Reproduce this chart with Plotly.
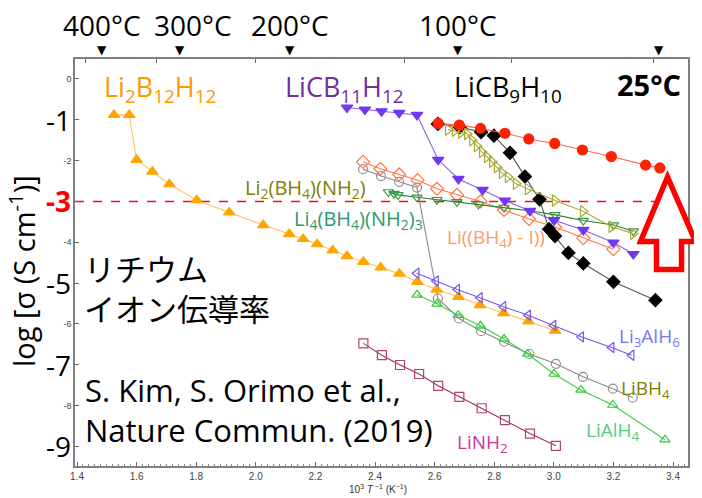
import plotly.graph_objects as go

# ---------------- data ----------------
li2b12h12_x = [1.524, 1.575, 1.600, 1.653, 1.710, 1.802, 1.911, 2.025, 2.112, 2.159, 2.206, 2.258,
               2.306, 2.361, 2.419, 2.482, 2.542, 2.607, 2.680, 2.752, 2.831, 2.915, 3.004]
li2b12h12_y = [-0.88, -0.88, -1.98, -2.27, -2.58, -2.97, -3.27, -3.58, -3.80, -3.92, -4.05, -4.20,
               -4.34, -4.48, -4.62, -4.77, -4.97, -5.16, -5.34, -5.54, -5.74, -5.94, -6.17]

licb11h12_x = [2.306, 2.366, 2.422, 2.481, 2.541, 2.612, 2.680, 2.761, 2.836, 2.920, 3.001, 3.099, 3.200, 3.267]
licb11h12_y = [-0.70, -0.75, -0.79, -0.83, -0.88, -1.98, -2.45, -2.72, -2.98, -3.23, -3.46, -3.70, -4.01, -4.29]

licb9h10_x = [2.611, 2.685, 2.756, 2.799, 2.853, 2.903, 2.952, 2.984, 3.004, 3.049, 3.099, 3.200, 3.341]
licb9h10_y = [-1.10, -1.18, -1.30, -1.39, -1.81, -2.39, -2.95, -3.68, -3.85, -4.26, -4.52, -4.97, -5.42]

mix_x = [2.612, 2.683, 2.754, 2.836, 2.916, 3.003, 3.096, 3.193, 3.308, 3.356]
mix_y = [-1.09, -1.13, -1.21, -1.33, -1.47, -1.58, -1.74, -1.90, -2.11, -2.18]

li2bh4nh2_x = [2.645, 2.668, 2.689, 2.709, 2.726, 2.742, 2.759, 2.776, 2.793, 2.809, 2.826, 2.846,
               2.873, 2.913, 3.004, 3.098, 3.194, 3.266]
li2bh4nh2_y = [-1.24, -1.27, -1.31, -1.35, -1.50, -1.64, -1.79, -1.91, -2.03, -2.16, -2.30, -2.40,
               -2.57, -2.70, -2.98, -3.24, -3.62, -3.79]

li4bh4nh23_x = [2.445, 2.464, 2.477, 2.541, 2.608, 2.675, 2.747, 2.833, 2.920, 3.004, 3.099, 3.200, 3.267]
li4bh4nh23_y = [-2.77, -2.81, -2.84, -2.90, -2.96, -3.01, -3.07, -3.15, -3.23, -3.33, -3.47, -3.58, -3.73]

libh4i_x = [2.360, 2.418, 2.481, 2.543, 2.608, 2.675, 2.754, 2.833, 2.917, 3.004, 3.099, 3.200]
libh4i_y = [-2.03, -2.20, -2.34, -2.48, -2.69, -2.84, -3.00, -3.21, -3.43, -3.63, -3.90, -4.17]

libh4_x = [2.360, 2.420, 2.481, 2.541, 2.611, 2.682, 2.756, 2.833, 2.918, 3.007, 3.098, 3.198, 3.265]
libh4_y = [-2.21, -2.38, -2.52, -2.66, -5.38, -5.87, -6.18, -6.44, -6.74, -6.98, -7.30, -7.59, -7.81]

lialh4_x = [2.541, 2.608, 2.679, 2.754, 2.833, 2.912, 3.001, 3.091, 3.198, 3.373]
lialh4_y = [-5.29, -5.51, -5.79, -6.05, -6.37, -6.74, -7.23, -7.62, -7.99, -8.84]

li3alh6_x = [2.540, 2.605, 2.676, 2.752, 2.831, 2.914, 2.999, 3.092, 3.194, 3.261]
li3alh6_y = [-4.76, -4.95, -5.16, -5.36, -5.58, -5.79, -6.04, -6.32, -6.58, -6.77]

linh2_x = [2.361, 2.423, 2.484, 2.548, 2.612, 2.683, 2.758, 2.836, 2.920, 3.007]
linh2_y = [-6.48, -6.77, -7.01, -7.23, -7.52, -7.79, -8.07, -8.36, -8.69, -8.99]

temps_c = [400, 300, 200, 100, 25]
temp_labels = ["400°C", "300°C", "200°C", "100°C", "<b>25°C</b>"]
top_ticks_K = [700, 600, 500, 400, 350, 300]

y_small_ticks = [0, -2, -4, -6, -8]
y_big_ticks = [-1, -3, -5, -7, -9]

# ---------------- layout helpers ----------------
OFF = 8  # page body margin offset
PW, PH = 702, 498
L, R, T, B = 75, 688, 59, 466  # plot area in page pixels
W, H = PW - OFF, PH - OFF
XR = [1.3933, 3.4503]
YR = [-9.485, 0.49]


def px(x):
    return (x - L) / (R - L)


def py(y):
    return (B - y) / (B - T)


FONT = "Open Sans, Noto Sans CJK JP, sans-serif"

fig = go.Figure()


def add(x, y, sym, mcol, lcol, size=9, lw=1.1):
    fig.add_trace(go.Scatter(
        x=x, y=y, mode="lines+markers",
        line=dict(color=lcol, width=lw),
        marker=dict(symbol=sym, size=size, color=mcol,
                    line=dict(color=mcol, width=1.2)),
        showlegend=False, hoverinfo="skip"))


add(linh2_x, linh2_y, "square-open", "#B0456E", "#A03055")
add(libh4_x, libh4_y, "circle-open", "#909090", "#8a8a8a")
add(lialh4_x, lialh4_y, "triangle-up-open", "#33CC33", "#44CC44")
add(li2b12h12_x, li2b12h12_y, "triangle-up", "#FFA500", "#FFC266", size=10)
add(li3alh6_x, li3alh6_y, "triangle-left-open", "#7755EE", "#7755EE")
add(libh4i_x, libh4i_y, "diamond-open", "#FF7744", "#FF7744", size=10)
add(li4bh4nh23_x, li4bh4nh23_y, "triangle-down-open", "#339944", "#2E7D32")
add(licb11h12_x, licb11h12_y, "triangle-down", "#7038F0", "#8860EE", size=10)
add(licb9h10_x, licb9h10_y, "diamond", "#000000", "#555555", size=10)
add(li2bh4nh2_x, li2bh4nh2_y, "triangle-right-open", "#AAAA33", "#AAAA44", size=10)
add(mix_x, mix_y, "circle", "#FF2200", "#FF6655", size=10)

# invisible trace for top axis
fig.add_trace(go.Scatter(x=[XR[0]], y=[YR[0]], xaxis="x2", mode="markers",
                         marker=dict(opacity=0), showlegend=False, hoverinfo="skip"))

annotations = []
for t, lab_t in zip(temps_c, temp_labels):
    xv = 1000.0 / (t + 273.15)
    annotations.append(dict(x=xv, y=py(50), xref="x", yref="paper", text="▼", showarrow=False,
                            font=dict(size=12, color="black", family="DejaVu Sans"),
                            xanchor="center", yanchor="middle"))
    if t == 25:
        annotations.append(dict(x=xv, y=py(84), xref="x", yref="paper", text=lab_t, showarrow=False,
                                font=dict(size=29, color="black", family=FONT),
                                xanchor="center", yanchor="middle", xshift=-10))
    else:
        annotations.append(dict(x=xv, y=py(25), xref="x", yref="paper", text=lab_t, showarrow=False,
                                font=dict(size=28, color="black", family=FONT),
                                xanchor="center", yanchor="middle", xshift=13 if t == 300 else 0))


def lab(text, x, y, size, color, anchor="left", family=FONT):
    annotations.append(dict(x=px(x), y=py(y), xref="paper", yref="paper", text=text,
                            showarrow=False, font=dict(size=size, color=color, family=family),
                            xanchor=anchor, yanchor="middle", align="left"))


lab("Li<sub>2</sub>B<sub>12</sub>H<sub>12</sub>", 102, 88, 27, "#FF9900")
lab("LiCB<sub>11</sub>H<sub>12</sub>", 283, 88, 27, "#7030A0")
lab("LiCB<sub>9</sub>H<sub>10</sub>", 452, 88, 27, "#000000")
lab("Li<sub>2</sub>(BH<sub>4</sub>)(NH<sub>2</sub>)", 243, 188, 20, "#808000")
lab("Li<sub>4</sub>(BH<sub>4</sub>)(NH<sub>2</sub>)<sub>3</sub>", 292, 219, 20, "#2E9970")
lab("Li((BH<sub>4</sub>) - I))", 445, 238, 19, "#FF9966")
lab("リチウム<br>イオン伝導率", 82, 287, 31, "#000000", family="Noto Sans CJK JP")
lab("S. Kim, S. Orimo et al.,<br>Nature Commun. (2019)", 83, 410, 31, "#000000")
lab("Li<sub>3</sub>AlH<sub>6</sub>", 617, 337, 19, "#7777EE")
lab("LiBH<sub>4</sub>", 619, 389, 19, "#808000")
lab("LiAlH<sub>4</sub>", 584, 431, 19, "#55CC88")
lab("LiNH<sub>2</sub>", 455, 443, 19, "#CC3399")

for v in y_big_ticks:
    annotations.append(dict(x=px(73), y=v, xref="paper", yref="y",
                            text=("<b>%d</b>" % v) if v == -3 else str(v), showarrow=False,
                            font=dict(size=28, color="#FF0000" if v == -3 else "black", family=FONT),
                            xanchor="right", yanchor="middle"))

annotations.append(dict(x=px(22), y=py(271), xref="paper", yref="paper",
                        text="log [σ (S cm<sup>-1</sup>)]", textangle=-90, showarrow=False,
                        font=dict(size=29, color="black", family=FONT),
                        xanchor="center", yanchor="middle"))
annotations.append(dict(x=px(378), y=py(489), xref="paper", yref="paper",
                        text="10<sup>3</sup> <i>T</i><sup> −1</sup> (K<sup>−1</sup>)", showarrow=False,
                        font=dict(size=10, color="#333333", family="Liberation Sans"),
                        xanchor="center", yanchor="middle"))

shapes = [dict(type="line", xref="x", yref="y", x0=XR[0], x1=3.40, y0=-3, y1=-3,
               line=dict(color="#EE1111", width=1.5, dash="dash"), layer="below")]
arrow_pts = [(667.5, 177), (640.5, 241.5), (656.5, 241.5), (656.5, 269.5),
             (681.5, 269.5), (681.5, 241.5), (695.5, 241.5)]
path = "M " + " L ".join("%.4f,%.4f" % (px(a), py(b)) for a, b in arrow_pts) + " Z"
shapes.append(dict(type="path", xref="paper", yref="paper", path=path,
                   line=dict(color="#FF0000", width=5.5), fillcolor="white", layer="above"))

fig.update_layout(
    width=W, height=H,
    margin=dict(l=L - OFF, r=PW - R, t=T - OFF, b=PH - B, autoexpand=False),
    paper_bgcolor="white", plot_bgcolor="white",
    showlegend=False,
    annotations=annotations, shapes=shapes,
    xaxis=dict(range=XR, tickvals=[1.4, 1.6, 1.8, 2.0, 2.2, 2.4, 2.6, 2.8, 3.0, 3.2, 3.4],
               ticktext=["1.4", "1.6", "1.8", "2.0", "2.2", "2.4", "2.6", "2.8", "3.0", "3.2", "3.4"],
               ticks="inside", ticklen=4, tickcolor="#666",
               minor=dict(dtick=0.02, tick0=1.4, ticks="inside", ticklen=2, tickcolor="#888"),
               showgrid=False, zeroline=False, showline=True, linecolor="#808080", linewidth=1.5,
               mirror=True, tickfont=dict(size=10, color="#444", family="Liberation Sans")),
    xaxis2=dict(range=XR, overlaying="x", side="top", tickvals=[1000.0 / k for k in top_ticks_K],
                ticks="inside", ticklen=4, tickcolor="#666", showticklabels=False,
                showgrid=False, zeroline=False, showline=False),
    yaxis=dict(range=YR, tickvals=y_small_ticks + y_big_ticks,
               ticktext=[str(v) for v in y_small_ticks] + ["" for _ in y_big_ticks],
               ticks="inside", ticklen=4, tickcolor="#666",
               showgrid=False, zeroline=False, showline=True, linecolor="#808080", linewidth=1.5,
               mirror=True, tickfont=dict(size=9, color="#444", family="Liberation Sans")),
)

fig.write_html("out.html")
